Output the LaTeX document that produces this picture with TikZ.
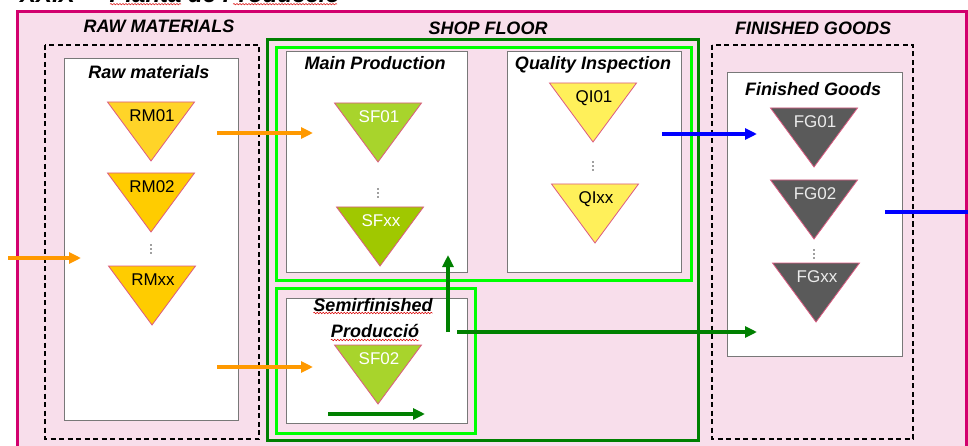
\documentclass[tikz,border=0pt]{standalone}
\usepackage{fontspec}
\setmainfont{Liberation Sans}
\usetikzlibrary{arrows.meta,decorations.pathmorphing}

\definecolor{pagepink}{RGB}{248,222,235}
\definecolor{framemag}{RGB}{210,0,110}
\definecolor{rmgold}{RGB}{255,204,0}
\definecolor{rmgoldlight}{RGB}{255,212,40}
\definecolor{sfgreen}{RGB}{168,212,44}
\definecolor{sfgreendark}{RGB}{160,200,0}
\definecolor{qiyellow}{RGB}{255,240,90}
\definecolor{fggrey}{RGB}{90,90,90}
\definecolor{fgtext}{RGB}{235,235,235}
\definecolor{triedge}{RGB}{220,90,130}
\definecolor{flowOrange}{RGB}{255,153,0}
\definecolor{flowGreen}{RGB}{0,128,0}
\definecolor{flowBlue}{RGB}{0,0,255}
\definecolor{limegreen}{RGB}{0,255,0}
\definecolor{boxgrey}{RGB}{120,120,120}

\tikzset{
  heading/.style={font=\fontsize{18}{21}\selectfont\bfseries\itshape, anchor=base, inner sep=0pt, text=black},
  tritext/.style={font=\fontsize{17}{20}\selectfont, anchor=base, inner sep=0pt},
  whitebox/.style={draw=boxgrey, line width=1pt, fill=white},
  dashbox/.style={draw=black, line width=1.1pt, dash pattern=on 5pt off 3.5pt},
  darkframe/.style={draw=flowGreen, line width=3pt},
  limeframe/.style={draw=limegreen, line width=3pt},
  flow/.style={line width=3.3pt, -{Triangle[length=12pt,width=11pt]}},
  squiggle/.style={draw=red!85!black, line width=0.5pt,
    decorate, decoration={snake, amplitude=0.7pt, segment length=3pt}},
  dotfill/.style={fill=black!75},
}

% inverted stock triangle: name, centre x, top y, fill, text colour, label
\newcommand\stocktri[6]{%
  \path[fill=#4, draw=triedge, line width=0.8pt]
    (#2-43.5,#3) -- (#2+43.5,#3) -- (#2,#3+59) -- cycle;
  \node[tritext, text=#5] (#1) at (#2+1,#3+19.5) {#6};
}
% three small dots standing for further stock points
\newcommand\moredots[2]{%
  \fill[dotfill] (#1,#2-4) circle (0.8) (#1,#2) circle (0.8) (#1,#2+4) circle (0.8);
}

\begin{document}
\begin{tikzpicture}[x=1pt,y=-1pt]
\useasboundingbox (0,0) rectangle (968,446);

% page heading (runs off the top edge)
\node[anchor=base west, inner sep=0pt, font=\fontsize{24}{28}\selectfont\bfseries\itshape]
  (pagetitle) at (20,2.8) {XX.X –\hspace{8pt} Planta de Producció};
\coordinate (plantaA) at (110,4.2);
\coordinate (plantaB) at (181,4.2);
\coordinate (producA) at (233,4.2);
\coordinate (producB) at (337,4.2);
\draw[squiggle] (plantaA) -- (plantaB);
\draw[squiggle] (producA) -- (producB);

% plant outline
\draw[framemag, line width=3pt, fill=pagepink] (17.5,11.5) rectangle (966.5,470);

% section headings
\node[heading] (rawhead)  at (159,33) {RAW MATERIALS};
\node[heading] (shophead) at (488,35) {SHOP FLOOR};
\node[heading] (fghead)   at (813,35) {FINISHED GOODS};

% areas
\draw[dashbox] (45,45) rectangle (259,439);
\draw[dashbox] (712,45) rectangle (913,439);
\draw[darkframe] (267,40) rectangle (698,440);
\draw[limeframe] (276,48) rectangle (691,280);
\draw[limeframe] (276,288) rectangle (475,433);

% warehouses and work centres
\draw[whitebox] (64,59) rectangle (238,420);
\draw[whitebox] (286,52) rectangle (467,272);
\draw[whitebox] (507,52) rectangle (681,272);
\draw[whitebox] (286,298) rectangle (467,423);
\draw[whitebox] (727,73) rectangle (902,356);

\node[heading] (rawbox)  at (149,79) {Raw materials};
\node[heading] (mainbox) at (375,70) {Main Production};
\node[heading] (qibox)   at (593,70) {Quality Inspection};
\node[heading] (fgbox)   at (813,96) {Finished Goods};
\node[heading] (semibox) at (373,311) {Semirfinished};
\node[heading] (prodbox) at (375,337) {Producció};

% spelling marks
\draw[squiggle] ([yshift=-2pt]semibox.base west) -- ([yshift=-2pt]semibox.base east);
\draw[squiggle] ([yshift=-3pt]prodbox.base west) -- ([yshift=-3pt]prodbox.base east);

% stock points
\stocktri{rm01}{151}{102}{rmgoldlight}{black}{RM01}
\stocktri{rm02}{151}{173}{rmgold}{black}{RM02}
\stocktri{rmxx}{152}{266}{rmgold}{black}{RMxx}
\moredots{151}{249}

\stocktri{sf01}{378}{103}{sfgreen}{white}{SF01}
\stocktri{sfxx}{380}{207}{sfgreendark}{white}{SFxx}
\moredots{378}{193}

\stocktri{qi01}{593}{83}{qiyellow}{black}{QI01}
\stocktri{qixx}{595}{184}{qiyellow}{black}{QIxx}
\moredots{593}{166}

\stocktri{sf02}{378}{345}{sfgreen}{white}{SF02}

\stocktri{fg01}{814}{108}{fggrey}{fgtext}{FG01}
\stocktri{fg02}{814}{180}{fggrey}{fgtext}{FG02}
\stocktri{fgxx}{816}{263}{fggrey}{fgtext}{FGxx}
\moredots{814}{254}

% flow end points
\coordinate (supplyIn) at (8,258);
\coordinate (rawArea)  at (81,258);
\coordinate (rawOutA)  at (217,133);
\coordinate (mainIn)   at (313,133);
\coordinate (rawOutB)  at (217,367);
\coordinate (semiIn)   at (313,367);
\coordinate (semiRunA) at (328,414);
\coordinate (semiRunB) at (425,414);
\coordinate (semiUp)   at (448,332);
\coordinate (mainUp)   at (448,255);
\coordinate (semiOut)  at (457,332);
\coordinate (fgInLow)  at (757,332);
\coordinate (qiOut)    at (662,134);
\coordinate (fgInTop)  at (757,134);
\coordinate (fgOut)    at (885,212);
\coordinate (shipOut)  at (968,212);

% material flows
\draw[flow, flowOrange] (supplyIn) -- (rawArea);
\draw[flow, flowOrange] (rawOutA) -- (mainIn);
\draw[flow, flowOrange] (rawOutB) -- (semiIn);
\draw[flow, flowGreen] (semiRunA) -- (semiRunB);
\draw[flow, flowGreen] (semiUp) -- (mainUp);
\draw[flow, flowGreen] (semiOut) -- (fgInLow);
\draw[flow, flowBlue] (qiOut) -- (fgInTop);
\draw[flowBlue, line width=3.3pt] (fgOut) -- (shipOut);
\end{tikzpicture}
\end{document}
